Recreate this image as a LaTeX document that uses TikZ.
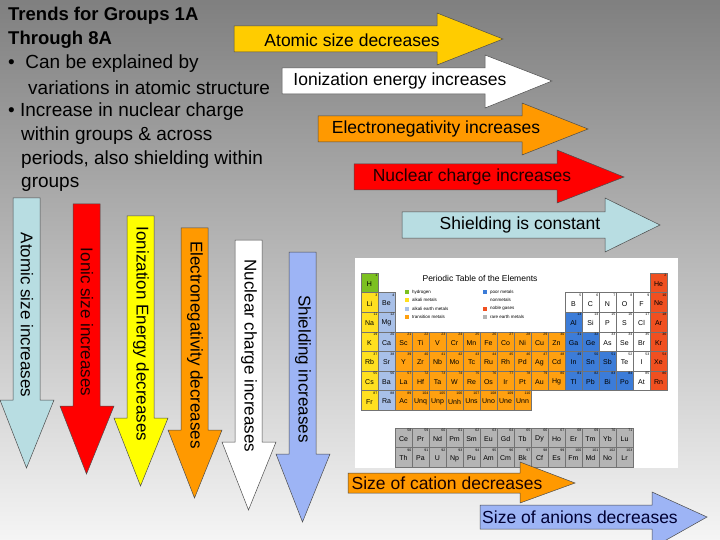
\documentclass[tikz,border=0pt]{standalone}
\usepackage{fontspec}
\setmainfont{Liberation Sans}
\begin{document}
\begin{tikzpicture}[x=1pt,y=-1pt,
  arrowbox/.style={draw=black!70,line width=0.5pt},
  atxt/.style={font=\fontsize{17}{19}\selectfont,inner sep=0pt},
  htxt/.style={font=\fontsize{17.5}{19}\selectfont,inner sep=0pt},
  ltxt/.style={font=\fontsize{19}{21}\selectfont,anchor=west,inner sep=0pt},
  cell/.style={draw=black!55,line width=0.3pt},
  sym/.style={font=\fontsize{7}{7}\selectfont,inner sep=0pt},
  num/.style={font=\fontsize{3.5}{4}\selectfont,inner sep=0pt,anchor=north east},
  lg/.style={font=\fontsize{4.5}{5}\selectfont,inner sep=0pt,anchor=west}]
\definecolor{cY}{HTML}{FFCC00}
\definecolor{cO}{HTML}{FF9900}
\definecolor{cR}{HTML}{FF0000}
\definecolor{cLB}{HTML}{B8DDE2}
\definecolor{cBl}{HTML}{9DB4F5}
\definecolor{cYel}{HTML}{FFFF00}
\definecolor{pH}{HTML}{7CC020}
\definecolor{pA}{HTML}{FFE020}
\definecolor{pE}{HTML}{A8C0E8}
\definecolor{pT}{HTML}{FFA010}
\definecolor{pP}{HTML}{3C7CD8}
\definecolor{pN}{HTML}{FFFFFF}
\definecolor{pG}{HTML}{F05020}
\definecolor{pR}{HTML}{B4B4B4}
\useasboundingbox (0,0) rectangle (720,540);
\shade[top color=black!50,bottom color=black!4] (0,0) rectangle (720,540);
\newcommand\harr[8]{\draw[arrowbox,fill=#1] (#2,#3) -- (#5,#3) -- (#5,#6) -- (#8,{(#3+#4)/2}) -- (#5,#7) -- (#5,#4) -- (#2,#4) -- cycle;}
\newcommand\varr[8]{\draw[arrowbox,fill=#1] (#3,#2) -- (#3,#5) -- (#6,#5) -- ({(#3+#4)/2},#8) -- (#7,#5) -- (#4,#5) -- (#4,#2) -- cycle;}
% left text
\node[ltxt,font=\fontsize{18.5}{20}\selectfont\bfseries] (t1) at (8,16) {Trends for Groups 1A};
\node[ltxt,font=\fontsize{18.5}{20}\selectfont\bfseries] (t2) at (8,40) {Through 8A};
\node[ltxt] (t3) at (8,64) {\textbullet\ \ Can be explained by};
\node[ltxt] (t4) at (28,88) {variations in atomic structure};
\node[ltxt] (t5) at (8,112) {\textbullet\ Increase in nuclear charge};
\node[ltxt] (t6) at (21,136) {within groups \& across};
\node[ltxt] (t7) at (21,160) {periods, also shielding within};
\node[ltxt] (t8) at (21,184) {groups};
% horizontal arrows
\harr{cY}{234}{26}{52}{437}{13}{65}{503}
\node[htxt] (h1) at (352,40) {Atomic size decreases};
\harr{white}{282}{68}{94}{485}{55}{108}{552}
\node[htxt] (h2) at (400,81) {Ionization energy increases};
\harr{cO}{318}{116}{142}{522}{103}{155}{588}
\node[htxt] (h3) at (436,129) {Electronegativity increases};
\harr{cR}{354}{164}{190}{557}{150}{203}{624}
\node[htxt,text=black!88!red] (h4) at (472,177) {Nuclear charge increases};
\harr{cLB}{402}{212}{238}{605}{198}{252}{660}
\node[htxt] (h5) at (520,225) {Shielding is constant};
% vertical arrows
\varr{cLB}{198}{13}{40}{400}{0}{54}{468}
\node[atxt,rotate=-90] (v1) at (27,315) {Atomic size increases};
\varr{cR}{204}{73}{100}{406}{60}{114}{474}
\node[atxt,rotate=-90,text=black!88!red] (v2) at (87,322) {Ionic size increases};
\varr{cYel}{216}{127}{154}{418}{114}{168}{486}
\node[atxt,rotate=-90] (v3) at (141,334) {Ionization Energy decreases};
\varr{cO}{228}{181}{208}{430}{168}{222}{498}
\node[atxt,rotate=-90] (v4) at (195,345) {Electronegativity decreases};
\varr{white}{240}{235}{262}{442}{222}{276}{510}
\node[atxt,rotate=-90] (v5) at (249,356) {Nuclear charge increases};
\varr{cBl}{252}{289}{316}{454}{276}{330}{522}
\node[atxt,rotate=-90] (v6) at (303,369) {Shielding increases};
% periodic table
\fill[white] (355,258) rectangle (678,468);
\node[font=\fontsize{8.5}{9}\selectfont,inner sep=0pt] (pt) at (480,278) {Periodic Table of the Elements};
\foreach \c/\r/\s/\n/\k in {
1/1/H/1/pH,18/1/He/2/pG,
1/2/Li/3/pA,2/2/Be/4/pE,13/2/B/5/pN,14/2/C/6/pN,15/2/N/7/pN,16/2/O/8/pN,17/2/F/9/pN,18/2/Ne/10/pG,
1/3/Na/11/pA,2/3/Mg/12/pE,13/3/Al/13/pP,14/3/Si/14/pN,15/3/P/15/pN,16/3/S/16/pN,17/3/Cl/17/pN,18/3/Ar/18/pG,
1/4/K/19/pA,2/4/Ca/20/pE,3/4/Sc/21/pT,4/4/Ti/22/pT,5/4/V/23/pT,6/4/Cr/24/pT,7/4/Mn/25/pT,8/4/Fe/26/pT,9/4/Co/27/pT,10/4/Ni/28/pT,11/4/Cu/29/pT,12/4/Zn/30/pT,13/4/Ga/31/pP,14/4/Ge/32/pP,15/4/As/33/pN,16/4/Se/34/pN,17/4/Br/35/pN,18/4/Kr/36/pG,
1/5/Rb/37/pA,2/5/Sr/38/pE,3/5/Y/39/pT,4/5/Zr/40/pT,5/5/Nb/41/pT,6/5/Mo/42/pT,7/5/Tc/43/pT,8/5/Ru/44/pT,9/5/Rh/45/pT,10/5/Pd/46/pT,11/5/Ag/47/pT,12/5/Cd/48/pT,13/5/In/49/pP,14/5/Sn/50/pP,15/5/Sb/51/pP,16/5/Te/52/pN,17/5/I/53/pN,18/5/Xe/54/pG,
1/6/Cs/55/pA,2/6/Ba/56/pE,3/6/La/57/pT,4/6/Hf/72/pT,5/6/Ta/73/pT,6/6/W/74/pT,7/6/Re/75/pT,8/6/Os/76/pT,9/6/Ir/77/pT,10/6/Pt/78/pT,11/6/Au/79/pT,12/6/Hg/80/pT,13/6/Tl/81/pP,14/6/Pb/82/pP,15/6/Bi/83/pP,16/6/Po/84/pP,17/6/At/85/pN,18/6/Rn/86/pG,
1/7/Fr/87/pA,2/7/Ra/88/pE,3/7/Ac/89/pT,4/7/Unq/104/pT,5/7/Unp/105/pT,6/7/Unh/106/pT,7/7/Uns/107/pT,8/7/Uno/108/pT,9/7/Une/109/pT,10/7/Unn/110/pT,
3/8.9/Ce/58/pR,4/8.9/Pr/59/pR,5/8.9/Nd/60/pR,6/8.9/Pm/61/pR,7/8.9/Sm/62/pR,8/8.9/Eu/63/pR,9/8.9/Gd/64/pR,10/8.9/Tb/65/pR,11/8.9/Dy/66/pR,12/8.9/Ho/67/pR,13/8.9/Er/68/pR,14/8.9/Tm/69/pR,15/8.9/Yb/70/pR,16/8.9/Lu/71/pR,
3/9.9/Th/90/pR,4/9.9/Pa/91/pR,5/9.9/U/92/pR,6/9.9/Np/93/pR,7/9.9/Pu/94/pR,8/9.9/Am/95/pR,9/9.9/Cm/96/pR,10/9.9/Bk/97/pR,11/9.9/Cf/98/pR,12/9.9/Es/99/pR,13/9.9/Fm/100/pR,14/9.9/Md/101/pR,15/9.9/No/102/pR,16/9.9/Lr/103/pR}{
  \pgfmathsetmacro\xa{361+(\c-1)*17}
  \pgfmathsetmacro\ya{273+(\r-1)*19.6}
  \draw[cell,fill=\k] (\xa,\ya) rectangle ++(17,19.6);
  \node[sym] at (\xa+8.5,\ya+11) {\s};
  \node[num] at (\xa+16.5,\ya+1) {\n};
}
\foreach \x/\y/\k/\t in {407/292/pH/hydrogen,407/300/pA/alkali metals,407/308.5/pE/alkali earth metals,407/317/pT/transition metals,485/292/pP/poor metals,485/300/pN/nonmetals,485/308.5/pG/noble gases,485/317/pR/rare earth metals}{
  \fill[\k] (\x-2,\y-2) rectangle (\x+2,\y+2);
  \node[lg] at (\x+5,\y) {\t};
}
% bottom arrows
\harr{cO}{348}{473}{493}{520}{462}{503}{575}
\node[htxt,text=black!90!red] (b1) at (447,483) {Size of cation decreases};
\harr{cBl}{480}{505}{529}{652}{492}{548}{707}
\node[htxt,text=black!80!blue] (b2) at (580,517) {Size of anions decreases};
\end{tikzpicture}
\end{document}
